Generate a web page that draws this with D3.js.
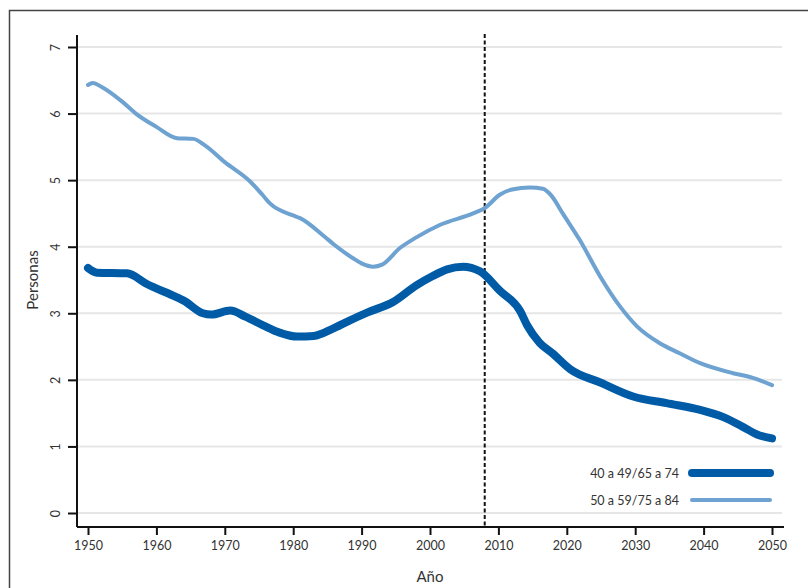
<!DOCTYPE html>
<html>
<head>
<meta charset="utf-8">
<script src="https://cdn.jsdelivr.net/npm/d3@7"></script>
<style>
  body { margin: 0; background: #fff; }
  text { font-family: Lato, "DejaVu Sans", sans-serif; fill: #333; }
</style>
</head>
<body>
<div id="chart"></div>
<script>
// years and values
var yearsA = [1950, 1951.3, 1955.7, 1958.6, 1963, 1964, 1966.8, 1968, 1970.8, 1973, 1975.6, 1978, 1980.6, 1983,
    1985.8, 1988, 1990.8, 1994.6, 1998, 2000.4, 2002.5, 2004.8, 2007.3, 2010.2, 2013.2, 2014.2, 2016, 2018,
    2020.5, 2024.9, 2029.7, 2034.6, 2039.5, 2042.9, 2045.8, 2047.8, 2050];
var valuesA = [3.68, 3.61, 3.60, 3.44, 3.24, 3.19, 3.0, 2.98, 3.04, 2.95, 2.82, 2.71, 2.65, 2.66,
    2.77, 2.88, 3.01, 3.17, 3.42, 3.56, 3.66, 3.70, 3.63, 3.34, 3.03, 2.82, 2.56, 2.39,
    2.16, 1.96, 1.75, 1.65, 1.55, 1.44, 1.29, 1.18, 1.12];

var yearsB = [1950, 1950.7, 1952, 1955, 1957, 1960, 1963, 1965.4, 1967, 1970, 1973.7, 1975.5, 1976.6, 1980,
    1981, 1984.6, 1986, 1988.7, 1990, 1991.7, 1993, 1995.6, 1998, 2001.5, 2006.3, 2008, 2010.2, 2012,
    2014.6, 2016.5, 2017.8, 2019.4, 2021.9, 2024.9, 2027.8, 2030.3, 2033.6, 2036.5, 2039.5, 2044.3, 2047.2, 2050];
var valuesB = [6.43, 6.46, 6.40, 6.18, 6.0, 5.80, 5.63, 5.62, 5.53, 5.27, 4.98, 4.78, 4.65, 4.47,
    4.43, 4.15, 4.03, 3.83, 3.75, 3.70, 3.73, 3.98, 4.14, 4.33, 4.50, 4.58, 4.78, 4.86,
    4.89, 4.87, 4.76, 4.50, 4.10, 3.55, 3.10, 2.80, 2.55, 2.40, 2.25, 2.10, 2.03, 1.92];

var seriesNames = ["40 a 49/65 a 74", "50 a 59/75 a 84"];
var seriesColors = ["#005ba7", "#6da2d1"];
var yTicks = [0, 1, 2, 3, 4, 5, 6, 7];
var xTicks = [1950, 1960, 1970, 1980, 1990, 2000, 2010, 2020, 2030, 2040, 2050];
var markYear = 2008;

var width = 808, height = 588;

var svg = d3.select("#chart").append("svg")
    .attr("width", width)
    .attr("height", height);

// outer frame (top and left edges visible)
svg.append("path")
    .attr("d", "M9.5,588 V10.5 H808")
    .attr("fill", "none")
    .attr("stroke", "#444")
    .attr("stroke-width", 1.5);

var x = d3.scaleLinear().domain([1950, 2050]).range([88, 772]);
var y = d3.scaleLinear().domain([0, 7]).range([513, 47]);

// gridlines
svg.append("g").selectAll("line").data(yTicks).enter().append("line")
    .attr("x1", 78).attr("x2", 782)
    .attr("y1", d => y(d)).attr("y2", d => y(d))
    .attr("stroke", "#e6e6e6").attr("stroke-width", 2);

// y axis
var yAxis = svg.append("g")
    .attr("transform", "translate(77,0)")
    .call(d3.axisLeft(y).tickValues(yTicks).tickFormat(d3.format("d")).tickSize(9).tickPadding(8));
yAxis.select(".domain").attr("d", "M0,35V527").attr("stroke", "#111").attr("stroke-width", 2);
yAxis.selectAll(".tick line").attr("stroke", "#111").attr("stroke-width", 2);
yAxis.selectAll(".tick text")
    .attr("x", null).attr("dy", null)
    .attr("transform", "translate(-17,0) rotate(-90)")
    .attr("text-anchor", "middle")
    .attr("dominant-baseline", "auto")
    .style("font-size", "12.5px")
    .style("font-family", "Lato, 'DejaVu Sans', sans-serif")
    .attr("fill", "#333");

// x axis
var xAxis = svg.append("g")
    .attr("transform", "translate(0,527)")
    .call(d3.axisBottom(x).tickValues(xTicks).tickFormat(d3.format("d")).tickSize(8).tickPadding(6));
xAxis.select(".domain").attr("d", "M77,0H784").attr("stroke", "#111").attr("stroke-width", 2);
xAxis.selectAll(".tick line").attr("stroke", "#111").attr("stroke-width", 2);
xAxis.selectAll(".tick text")
    .style("font-size", "12.5px")
    .style("font-family", "Lato, 'DejaVu Sans', sans-serif")
    .attr("fill", "#333");

// axis titles
svg.append("text")
    .attr("transform", "translate(38,280) rotate(-90)")
    .attr("text-anchor", "middle")
    .style("font-size", "15px")
    .text("Personas");
svg.append("text")
    .attr("x", 430).attr("y", 582)
    .attr("text-anchor", "middle")
    .style("font-size", "15px")
    .text("Año");

// vertical marker
svg.append("line")
    .attr("x1", x(markYear)).attr("x2", x(markYear))
    .attr("y1", 34).attr("y2", 527)
    .attr("stroke", "#111").attr("stroke-width", 2)
    .attr("stroke-dasharray", "4,2.5");

var line = d3.line()
    .x(d => x(d[0]))
    .y(d => y(d[1]))
    .curve(d3.curveMonotoneX);

var dataA = yearsA.map((yr, i) => [yr, valuesA[i]]);
var dataB = yearsB.map((yr, i) => [yr, valuesB[i]]);

svg.append("path")
    .datum(dataB)
    .attr("d", line)
    .attr("fill", "none")
    .attr("stroke", seriesColors[1])
    .attr("stroke-width", 4)
    .attr("stroke-linecap", "round");

svg.append("path")
    .datum(dataA)
    .attr("d", line)
    .attr("fill", "none")
    .attr("stroke", seriesColors[0])
    .attr("stroke-width", 8)
    .attr("stroke-linecap", "round");

// legend
var legendY = [473, 500];
var legendW = [8, 4];
seriesNames.forEach(function(name, i) {
    svg.append("line")
        .attr("x1", 692).attr("x2", 770)
        .attr("y1", legendY[i]).attr("y2", legendY[i])
        .attr("stroke", seriesColors[i])
        .attr("stroke-width", legendW[i])
        .attr("stroke-linecap", "round");
    svg.append("text")
        .attr("x", 679).attr("y", legendY[i] + 4.5)
        .attr("text-anchor", "end")
        .style("font-size", "12.5px")
        .text(name);
});
</script>
</body>
</html>
